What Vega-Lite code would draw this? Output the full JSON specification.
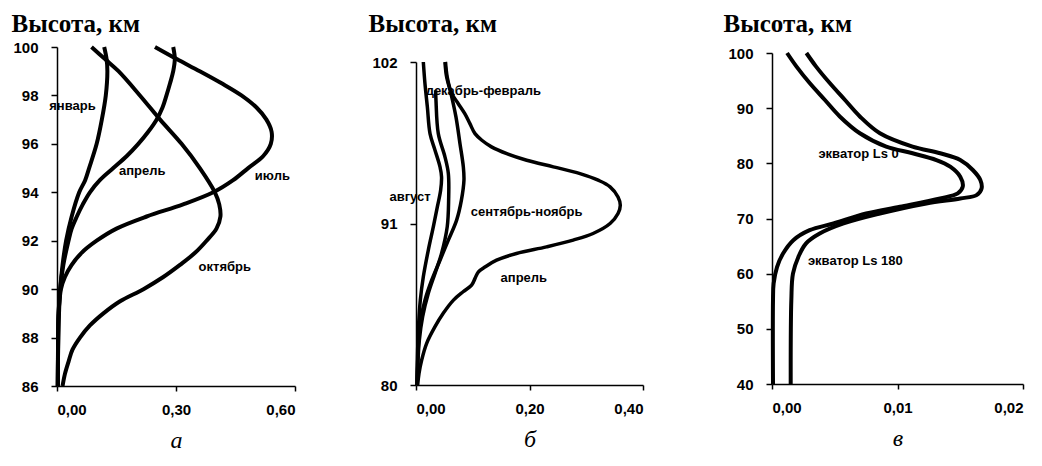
{
  "$schema": "https://vega.github.io/schema/vega-lite/v6.json",
  "padding": {"left": 11, "top": 11, "right": 5, "bottom": 5},
  "background": "white",
  "spacing": 121,
  "bounds": "flush",
  "config": {
    "view": {"stroke": null},
    "axis": {"domainColor": "black", "domainWidth": 1.5, "tickColor": "black", "tickWidth": 1.5, "tickSize": 6, "labelFont": "Liberation Sans", "labelFontWeight": "bold", "labelFontSize": 15, "labelColor": "black", "grid": false, "titleColor": "black"},
    "line": {"color": "black", "strokeWidth": 4, "interpolate": "catmull-rom"},
    "text": {"font": "Liberation Sans", "fontWeight": "bold", "fontSize": 13, "color": "black"}
  },
  "datasets": {
    "a": [
      {"s": "январь", "h": 100, "v": 0.119}, {"s": "январь", "h": 99.5, "v": 0.125}, {"s": "январь", "h": 99, "v": 0.127}, {"s": "январь", "h": 98, "v": 0.123}, {"s": "январь", "h": 97, "v": 0.113}, {"s": "январь", "h": 96, "v": 0.100}, {"s": "январь", "h": 95, "v": 0.081}, {"s": "январь", "h": 94.5, "v": 0.071}, {"s": "январь", "h": 94, "v": 0.056}, {"s": "январь", "h": 93, "v": 0.037}, {"s": "январь", "h": 92, "v": 0.023}, {"s": "январь", "h": 91, "v": 0.014}, {"s": "январь", "h": 90, "v": 0.008}, {"s": "январь", "h": 89, "v": 0.005}, {"s": "январь", "h": 88, "v": 0.003}, {"s": "январь", "h": 86, "v": 0.002},
      {"s": "апрель", "h": 100, "v": 0.293}, {"s": "апрель", "h": 99.5, "v": 0.297}, {"s": "апрель", "h": 99, "v": 0.293}, {"s": "апрель", "h": 98.5, "v": 0.285}, {"s": "апрель", "h": 98, "v": 0.276}, {"s": "апрель", "h": 97.5, "v": 0.266}, {"s": "апрель", "h": 97, "v": 0.251}, {"s": "апрель", "h": 96.5, "v": 0.230}, {"s": "апрель", "h": 96, "v": 0.205}, {"s": "апрель", "h": 95.5, "v": 0.176}, {"s": "апрель", "h": 95, "v": 0.142}, {"s": "апрель", "h": 94.5, "v": 0.108}, {"s": "апрель", "h": 94, "v": 0.083}, {"s": "апрель", "h": 93.5, "v": 0.065}, {"s": "апрель", "h": 93, "v": 0.050}, {"s": "апрель", "h": 92.5, "v": 0.037}, {"s": "апрель", "h": 92, "v": 0.029}, {"s": "апрель", "h": 91, "v": 0.016}, {"s": "апрель", "h": 90, "v": 0.008}, {"s": "апрель", "h": 89, "v": 0.004}, {"s": "апрель", "h": 88, "v": 0.003}, {"s": "апрель", "h": 86, "v": 0.002},
      {"s": "июль", "h": 100, "v": 0.247}, {"s": "июль", "h": 99.5, "v": 0.302}, {"s": "июль", "h": 99, "v": 0.360}, {"s": "июль", "h": 98.5, "v": 0.415}, {"s": "июль", "h": 98, "v": 0.465}, {"s": "июль", "h": 97.5, "v": 0.503}, {"s": "июль", "h": 97, "v": 0.528}, {"s": "июль", "h": 96.5, "v": 0.541}, {"s": "июль", "h": 96, "v": 0.539}, {"s": "июль", "h": 95.5, "v": 0.520}, {"s": "июль", "h": 95, "v": 0.482}, {"s": "июль", "h": 94.5, "v": 0.444}, {"s": "июль", "h": 94, "v": 0.394}, {"s": "июль", "h": 93.5, "v": 0.318}, {"s": "июль", "h": 93, "v": 0.226}, {"s": "июль", "h": 92.5, "v": 0.150}, {"s": "июль", "h": 92, "v": 0.100}, {"s": "июль", "h": 91.5, "v": 0.062}, {"s": "июль", "h": 91, "v": 0.037}, {"s": "июль", "h": 90.5, "v": 0.020}, {"s": "июль", "h": 90, "v": 0.010}, {"s": "июль", "h": 89, "v": 0.004}, {"s": "июль", "h": 88, "v": 0.003}, {"s": "июль", "h": 86, "v": 0.002},
      {"s": "октябрь", "h": 100, "v": 0.087}, {"s": "октябрь", "h": 99.5, "v": 0.121}, {"s": "октябрь", "h": 99, "v": 0.155}, {"s": "октябрь", "h": 98, "v": 0.209}, {"s": "октябрь", "h": 97, "v": 0.260}, {"s": "октябрь", "h": 96, "v": 0.314}, {"s": "октябрь", "h": 95, "v": 0.360}, {"s": "октябрь", "h": 94, "v": 0.398}, {"s": "октябрь", "h": 93.5, "v": 0.409}, {"s": "октябрь", "h": 93, "v": 0.412}, {"s": "октябрь", "h": 92.5, "v": 0.402}, {"s": "октябрь", "h": 92, "v": 0.377}, {"s": "октябрь", "h": 91.5, "v": 0.348}, {"s": "октябрь", "h": 91, "v": 0.310}, {"s": "октябрь", "h": 90.5, "v": 0.268}, {"s": "октябрь", "h": 90, "v": 0.218}, {"s": "октябрь", "h": 89.5, "v": 0.159}, {"s": "октябрь", "h": 89, "v": 0.117}, {"s": "октябрь", "h": 88.5, "v": 0.083}, {"s": "октябрь", "h": 88, "v": 0.058}, {"s": "октябрь", "h": 87.5, "v": 0.039}, {"s": "октябрь", "h": 87, "v": 0.029}, {"s": "октябрь", "h": 86.5, "v": 0.020}, {"s": "октябрь", "h": 86, "v": 0.014}
    ],
    "b": [
      {"s": "L1", "h": 102, "v": 0.0129}, {"s": "L1", "h": 100.53, "v": 0.0158}, {"s": "L1", "h": 98.94, "v": 0.020}, {"s": "L1", "h": 97.12, "v": 0.0247}, {"s": "L1", "h": 95.99, "v": 0.0335}, {"s": "L1", "h": 94.86, "v": 0.0423}, {"s": "L1", "h": 94.18, "v": 0.045}, {"s": "L1", "h": 93.27, "v": 0.0434}, {"s": "L1", "h": 92.13, "v": 0.0376}, {"s": "L1", "h": 90.77, "v": 0.0305}, {"s": "L1", "h": 89.19, "v": 0.0217}, {"s": "L1", "h": 87.37, "v": 0.0129}, {"s": "L1", "h": 85.78, "v": 0.0076}, {"s": "L1", "h": 84.2, "v": 0.0047}, {"s": "L1", "h": 82.38, "v": 0.0029}, {"s": "L1", "h": 80, "v": 0.0018},
      {"s": "L2", "h": 100.07, "v": 0.0346}, {"s": "L2", "h": 99.39, "v": 0.0352}, {"s": "L2", "h": 97.12, "v": 0.0393}, {"s": "L2", "h": 95.54, "v": 0.051}, {"s": "L2", "h": 94.4, "v": 0.057}, {"s": "L2", "h": 92.59, "v": 0.0575}, {"s": "L2", "h": 90.77, "v": 0.055}, {"s": "L2", "h": 88.96, "v": 0.045}, {"s": "L2", "h": 87.6, "v": 0.0335}, {"s": "L2", "h": 86.24, "v": 0.0217}, {"s": "L2", "h": 84.65, "v": 0.0117}, {"s": "L2", "h": 83.06, "v": 0.0059}, {"s": "L2", "h": 80, "v": 0.0018},
      {"s": "L3", "h": 102, "v": 0.051}, {"s": "L3", "h": 100.98, "v": 0.054}, {"s": "L3", "h": 99.85, "v": 0.0616}, {"s": "L3", "h": 98.26, "v": 0.0704}, {"s": "L3", "h": 96.44, "v": 0.0775}, {"s": "L3", "h": 94.86, "v": 0.0834}, {"s": "L3", "h": 93.95, "v": 0.0845}, {"s": "L3", "h": 92.59, "v": 0.080}, {"s": "L3", "h": 91.23, "v": 0.0716}, {"s": "L3", "h": 89.87, "v": 0.057}, {"s": "L3", "h": 88.5, "v": 0.0423}, {"s": "L3", "h": 87.14, "v": 0.0276}, {"s": "L3", "h": 85.78, "v": 0.0158}, {"s": "L3", "h": 84.42, "v": 0.0082}, {"s": "L3", "h": 82.61, "v": 0.0041}, {"s": "L3", "h": 80, "v": 0.0018},
      {"s": "L4", "h": 102, "v": 0.052}, {"s": "L4", "h": 100.98, "v": 0.055}, {"s": "L4", "h": 99.85, "v": 0.063}, {"s": "L4", "h": 99.16, "v": 0.0745}, {"s": "L4", "h": 98.48, "v": 0.086}, {"s": "L4", "h": 97.8, "v": 0.095}, {"s": "L4", "h": 97.12, "v": 0.104}, {"s": "L4", "h": 96.67, "v": 0.116}, {"s": "L4", "h": 96.22, "v": 0.133}, {"s": "L4", "h": 95.76, "v": 0.160}, {"s": "L4", "h": 95.31, "v": 0.195}, {"s": "L4", "h": 94.86, "v": 0.242}, {"s": "L4", "h": 94.4, "v": 0.289}, {"s": "L4", "h": 93.95, "v": 0.321}, {"s": "L4", "h": 93.5, "v": 0.342}, {"s": "L4", "h": 92.81, "v": 0.356}, {"s": "L4", "h": 92.25, "v": 0.360}, {"s": "L4", "h": 91.68, "v": 0.356}, {"s": "L4", "h": 91.0, "v": 0.342}, {"s": "L4", "h": 90.32, "v": 0.312}, {"s": "L4", "h": 89.87, "v": 0.277}, {"s": "L4", "h": 89.41, "v": 0.230}, {"s": "L4", "h": 88.96, "v": 0.177}, {"s": "L4", "h": 88.5, "v": 0.142}, {"s": "L4", "h": 88.05, "v": 0.122}, {"s": "L4", "h": 87.71, "v": 0.110}, {"s": "L4", "h": 87.26, "v": 0.104}, {"s": "L4", "h": 86.8, "v": 0.098}, {"s": "L4", "h": 86.35, "v": 0.083}, {"s": "L4", "h": 85.78, "v": 0.066}, {"s": "L4", "h": 84.88, "v": 0.048}, {"s": "L4", "h": 83.97, "v": 0.0335}, {"s": "L4", "h": 82.84, "v": 0.0188}, {"s": "L4", "h": 81.7, "v": 0.010}, {"s": "L4", "h": 80.79, "v": 0.0053}, {"s": "L4", "h": 80, "v": 0.0029}
    ],
    "c": [
      {"s": "Ls0", "h": 100, "v": 0.0012}, {"s": "Ls0", "h": 97.58, "v": 0.00194}, {"s": "Ls0", "h": 94.55, "v": 0.0030}, {"s": "Ls0", "h": 91.52, "v": 0.0042}, {"s": "Ls0", "h": 88.5, "v": 0.0054}, {"s": "Ls0", "h": 85.45, "v": 0.0070}, {"s": "Ls0", "h": 83.03, "v": 0.0091}, {"s": "Ls0", "h": 81.82, "v": 0.0112}, {"s": "Ls0", "h": 80.6, "v": 0.0131}, {"s": "Ls0", "h": 79.4, "v": 0.0142}, {"s": "Ls0", "h": 77.58, "v": 0.0150}, {"s": "Ls0", "h": 75.76, "v": 0.0152}, {"s": "Ls0", "h": 74.55, "v": 0.0148}, {"s": "Ls0", "h": 73.64, "v": 0.0134}, {"s": "Ls0", "h": 72.12, "v": 0.0102}, {"s": "Ls0", "h": 70.9, "v": 0.0075}, {"s": "Ls0", "h": 69.1, "v": 0.0049}, {"s": "Ls0", "h": 67.88, "v": 0.0030}, {"s": "Ls0", "h": 66.06, "v": 0.0017}, {"s": "Ls0", "h": 63.64, "v": 0.00088}, {"s": "Ls0", "h": 61.2, "v": 0.0004}, {"s": "Ls0", "h": 58.2, "v": 0.00013}, {"s": "Ls0", "h": 55.2, "v": 0.00008}, {"s": "Ls0", "h": 40, "v": 0.00008},
      {"s": "Ls180", "h": 100, "v": 0.00274}, {"s": "Ls180", "h": 97.58, "v": 0.0035}, {"s": "Ls180", "h": 94.55, "v": 0.0046}, {"s": "Ls180", "h": 91.52, "v": 0.0058}, {"s": "Ls180", "h": 88.5, "v": 0.0070}, {"s": "Ls180", "h": 85.45, "v": 0.0086}, {"s": "Ls180", "h": 83.03, "v": 0.0112}, {"s": "Ls180", "h": 81.82, "v": 0.0134}, {"s": "Ls180", "h": 80.6, "v": 0.0150}, {"s": "Ls180", "h": 78.79, "v": 0.0160}, {"s": "Ls180", "h": 76.97, "v": 0.0166}, {"s": "Ls180", "h": 75.45, "v": 0.0167}, {"s": "Ls180", "h": 74.24, "v": 0.0163}, {"s": "Ls180", "h": 73.64, "v": 0.0150}, {"s": "Ls180", "h": 72.73, "v": 0.0123}, {"s": "Ls180", "h": 70.9, "v": 0.0086}, {"s": "Ls180", "h": 69.1, "v": 0.0057}, {"s": "Ls180", "h": 67.27, "v": 0.0038}, {"s": "Ls180", "h": 65.45, "v": 0.0027}, {"s": "Ls180", "h": 63.03, "v": 0.0021}, {"s": "Ls180", "h": 60.0, "v": 0.00167}, {"s": "Ls180", "h": 55.2, "v": 0.00154}, {"s": "Ls180", "h": 40, "v": 0.00149}
    ],
    "la": [
      {"t": "январь", "v": 0.039, "h": 97.56}, {"t": "апрель", "v": 0.215, "h": 94.89}, {"t": "июль", "v": 0.543, "h": 94.68}, {"t": "октябрь", "v": 0.423, "h": 90.9}
    ],
    "lb": [
      {"t": "декабрь-февраль", "v": 0.1186, "h": 100.03}, {"t": "август", "v": -0.0106, "h": 92.81}, {"t": "сентябрь-ноябрь", "v": 0.195, "h": 91.79}, {"t": "апрель", "v": 0.190, "h": 87.26}
    ],
    "lc": [
      {"t": "экватор Ls 0", "v": 0.0069, "h": 81.7}, {"t": "экватор Ls 180", "v": 0.00664, "h": 62.3}
    ]
  },
  "hconcat": [
    {
      "width": 238, "height": 339,
      "encoding": {
        "x": {"field": "v", "type": "quantitative", "scale": {"domain": [0, 0.6], "nice": false},
          "axis": {"values": [0, 0.3, 0.6], "labelExpr": "replace(format(datum.value, '.2f'), '.', ',')", "title": "а", "titleFont": "Liberation Serif", "titleFontStyle": "italic", "titleFontWeight": "normal", "titleFontSize": 24, "titleY": 61, "titleBaseline": "alphabetic", "labelPadding": 11, "tickSize": 5}},
        "y": {"field": "h", "type": "quantitative", "scale": {"domain": [86, 100], "nice": false, "zero": false},
          "axis": {"values": [86, 88, 90, 92, 94, 96, 98, 100], "title": "Высота, км", "titleAngle": 0, "titleX": -46, "titleY": -16, "titleAlign": "left", "titleBaseline": "alphabetic", "titleFont": "Liberation Serif", "titleFontSize": 25, "titleFontWeight": "bold", "labelPadding": 13}}
      },
      "layer": [
        {"data": {"name": "a"}, "mark": "line", "encoding": {"detail": {"field": "s"}, "order": {"field": "h", "type": "quantitative"}}},
        {"data": {"name": "la"}, "mark": "text", "encoding": {"text": {"field": "t"}}}
      ]
    },
    {
      "width": 235, "height": 339,
      "encoding": {
        "x": {"field": "v", "type": "quantitative", "scale": {"domain": [0, 0.4], "nice": false, "range": [0, 227]},
          "axis": {"values": [0, 0.2, 0.4], "labelExpr": "replace(format(datum.value, '.2f'), '.', ',')", "title": "б", "titleFont": "Liberation Serif", "titleFontStyle": "italic", "titleFontWeight": "normal", "titleFontSize": 24, "titleY": 61, "titleBaseline": "alphabetic", "labelPadding": 11, "tickSize": 5, "offset": -1}},
        "y": {"field": "h", "type": "quantitative", "scale": {"domain": [80, 102], "nice": false, "zero": false, "range": [338, 15]},
          "axis": {"values": [80, 91, 102], "title": "Высота, км", "titleAngle": 0, "titleX": -48, "titleY": -16, "titleAlign": "left", "titleBaseline": "alphabetic", "titleFont": "Liberation Serif", "titleFontSize": 25, "titleFontWeight": "bold", "labelPadding": 13}}
      },
      "layer": [
        {"data": {"name": "b"}, "mark": {"type": "line", "strokeWidth": 3.5}, "encoding": {"detail": {"field": "s"}, "order": {"field": "h", "type": "quantitative"}}},
        {"data": {"name": "lb"}, "mark": "text", "encoding": {"text": {"field": "t"}}}
      ]
    },
    {
      "width": 251, "height": 339,
      "encoding": {
        "x": {"field": "v", "type": "quantitative", "scale": {"domain": [0, 0.02], "nice": false},
          "axis": {"values": [0, 0.01, 0.02], "labelExpr": "replace(format(datum.value, '.2f'), '.', ',')", "title": "в", "titleFont": "Liberation Serif", "titleFontStyle": "italic", "titleFontWeight": "normal", "titleFontSize": 24, "titleY": 61, "titleBaseline": "alphabetic", "labelPadding": 11, "tickSize": 5, "offset": -2}},
        "y": {"field": "h", "type": "quantitative", "scale": {"domain": [40, 100], "nice": false, "zero": false, "range": [337, 6]},
          "axis": {"values": [40, 50, 60, 70, 80, 90, 100], "title": "Высота, км", "titleAngle": 0, "titleX": -49, "titleY": -16, "titleAlign": "left", "titleBaseline": "alphabetic", "titleFont": "Liberation Serif", "titleFontSize": 25, "titleFontWeight": "bold", "labelPadding": 13}}
      },
      "layer": [
        {"data": {"name": "c"}, "mark": "line", "encoding": {"detail": {"field": "s"}, "order": {"field": "h", "type": "quantitative"}}},
        {"data": {"name": "lc"}, "mark": "text", "encoding": {"text": {"field": "t"}}}
      ]
    }
  ]
}
